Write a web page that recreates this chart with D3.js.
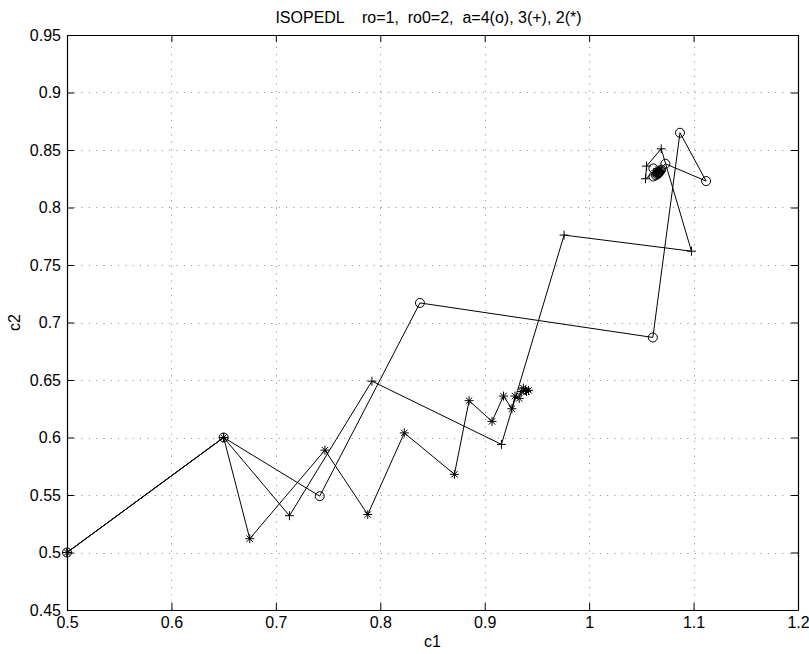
<!DOCTYPE html>
<html>
<head>
<meta charset="utf-8">
<script src="https://cdn.jsdelivr.net/npm/d3@7"></script>
<style>
  html, body { margin: 0; padding: 0; background: #fff; }
  svg text { font-family: "Liberation Sans", Arial, Helvetica, sans-serif; fill: #000; }
</style>
</head>
<body>
<svg id="chart" width="809" height="654"></svg>
<script>
// ---- data ----
const titleText = "ISOPEDL    ro=1,  ro0=2,  a=4(o), 3(+), 2(*)";
const xLabel = "c1";
const yLabel = "c2";
const xTicks = [0.5, 0.6, 0.7, 0.8, 0.9, 1.0, 1.1, 1.2];
const xTickLabels = ["0.5", "0.6", "0.7", "0.8", "0.9", "1", "1.1", "1.2"];
const yTicks = [0.45, 0.5, 0.55, 0.6, 0.65, 0.7, 0.75, 0.8, 0.85, 0.9, 0.95];
const yTickLabels = ["0.45", "0.5", "0.55", "0.6", "0.65", "0.7", "0.75", "0.8", "0.85", "0.9", "0.95"];

// a = 4 (o)
const circleC1 = [0.5, 0.65, 0.742, 0.838, 1.061, 1.087, 1.112, 1.073, 1.0615, 1.0615, 1.069, 1.064, 1.068, 1.065, 1.067, 1.066, 1.0672, 1.0658, 1.0666, 1.0662];
const circleC2 = [0.5, 0.6, 0.549, 0.717, 0.687, 0.865, 0.823, 0.838, 0.827, 0.834, 0.833, 0.828, 0.832, 0.829, 0.831, 0.8295, 0.8308, 0.8302, 0.8304, 0.8301];
// a = 3 (+)
const plusC1 = [0.5, 0.65, 0.713, 0.792, 0.916, 0.976, 1.098, 1.069, 1.055, 1.054, 1.064, 1.067, 1.066, 1.0665];
const plusC2 = [0.5, 0.6, 0.532, 0.649, 0.594, 0.776, 0.762, 0.851, 0.836, 0.825, 0.832, 0.830, 0.831, 0.8305];
// a = 2 (*)
const starC1 = [0.5, 0.65, 0.675, 0.747, 0.788, 0.823, 0.871, 0.885, 0.907, 0.918, 0.926, 0.929, 0.933, 0.935, 0.940, 0.937, 0.942, 0.939];
const starC2 = [0.5, 0.6, 0.512, 0.589, 0.533, 0.604, 0.568, 0.632, 0.614, 0.636, 0.625, 0.636, 0.634, 0.640, 0.640, 0.643, 0.641, 0.641];

// ---- layout ----
const mLeft = 67, mTop = 35, mRight = 798, mBottom = 610;
const fontSize = "16px";
const svg = d3.select("#chart");
const x = d3.scaleLinear().domain([0.5, 1.2]).range([mLeft, mRight]);
const y = d3.scaleLinear().domain([0.45, 0.95]).range([mBottom, mTop]);

// grid
const grid = svg.append("g").attr("stroke", "#888").attr("stroke-width", 1).attr("stroke-dasharray", "1,6.3");
grid.selectAll("line.gx").data(xTicks.slice(1, -1)).join("line")
  .attr("x1", d => Math.round(x(d)) + 0.5).attr("x2", d => Math.round(x(d)) + 0.5)
  .attr("y1", mBottom).attr("y2", mTop);
grid.selectAll("line.gy").data(yTicks.slice(1, -1)).join("line")
  .attr("y1", d => Math.round(y(d)) + 0.5).attr("y2", d => Math.round(y(d)) + 0.5)
  .attr("x1", mLeft).attr("x2", mRight);

// axes (ticks inward on all four sides)
const tickLen = 7;
const fmtX = d => xTickLabels[xTicks.indexOf(d)];
const fmtY = d => yTickLabels[yTicks.indexOf(d)];
const axB = svg.append("g").attr("transform", `translate(0,${mBottom})`)
  .call(d3.axisBottom(x).tickValues(xTicks).tickFormat(fmtX).tickSizeInner(-tickLen).tickSizeOuter(0).tickPadding(7));
const axT = svg.append("g").attr("transform", `translate(0,${mTop})`)
  .call(d3.axisTop(x).tickValues(xTicks).tickFormat("").tickSizeInner(-tickLen).tickSizeOuter(0));
const axL = svg.append("g").attr("transform", `translate(${mLeft},0)`)
  .call(d3.axisLeft(y).tickValues(yTicks).tickFormat(fmtY).tickSizeInner(-tickLen).tickSizeOuter(0).tickPadding(6));
const axR = svg.append("g").attr("transform", `translate(${mRight},0)`)
  .call(d3.axisRight(y).tickValues(yTicks).tickFormat("").tickSizeInner(-tickLen).tickSizeOuter(0));
[axB, axT, axL, axR].forEach(a => {
  a.selectAll("path.domain").attr("stroke", "#000").attr("stroke-width", 1.2);
  a.selectAll(".tick line").attr("stroke", "#000");
  a.selectAll("text").style("font-size", fontSize).attr("fill", "#000");
});

// series lines
const line = d3.line().x(d => x(d[0])).y(d => y(d[1]));
const series = [
  { c1: circleC1, c2: circleC2, m: "o" },
  { c1: plusC1, c2: plusC2, m: "+" },
  { c1: starC1, c2: starC2, m: "*" }
];
const plot = svg.append("g");
series.forEach(s => {
  const pts = s.c1.map((v, i) => [v, s.c2[i]]);
  plot.append("path").attr("d", line(pts)).attr("fill", "none").attr("stroke", "#000").attr("stroke-width", 1);
  const g = plot.append("g").attr("stroke", "#000").attr("stroke-width", 1).attr("fill", "none");
  pts.forEach(p => {
    const px = x(p[0]), py = y(p[1]);
    if (s.m === "o") {
      g.append("circle").attr("cx", px).attr("cy", py).attr("r", 4.5);
    } else if (s.m === "+") {
      const r = 4.5;
      g.append("path").attr("d", `M${px - r},${py}H${px + r}M${px},${py - r}V${py + r}`);
    } else {
      const r = 4.5, q = 3.2;
      g.append("path").attr("d",
        `M${px - r},${py}H${px + r}M${px},${py - r}V${py + r}M${px - q},${py - q}L${px + q},${py + q}M${px - q},${py + q}L${px + q},${py - q}`);
    }
  });
});

// title and labels
svg.append("text").attr("x", (mLeft + mRight) / 2 - 4).attr("y", 23).attr("text-anchor", "middle")
  .style("font-size", fontSize).style("white-space", "pre").attr("xml:space", "preserve").text(titleText);
svg.append("text").attr("x", (mLeft + mRight) / 2).attr("y", 647).attr("text-anchor", "middle")
  .style("font-size", fontSize).text(xLabel);
svg.append("text").attr("transform", `translate(20,${(mTop + mBottom) / 2}) rotate(-90)`).attr("text-anchor", "middle")
  .style("font-size", fontSize).text(yLabel);
</script>
</body>
</html>
